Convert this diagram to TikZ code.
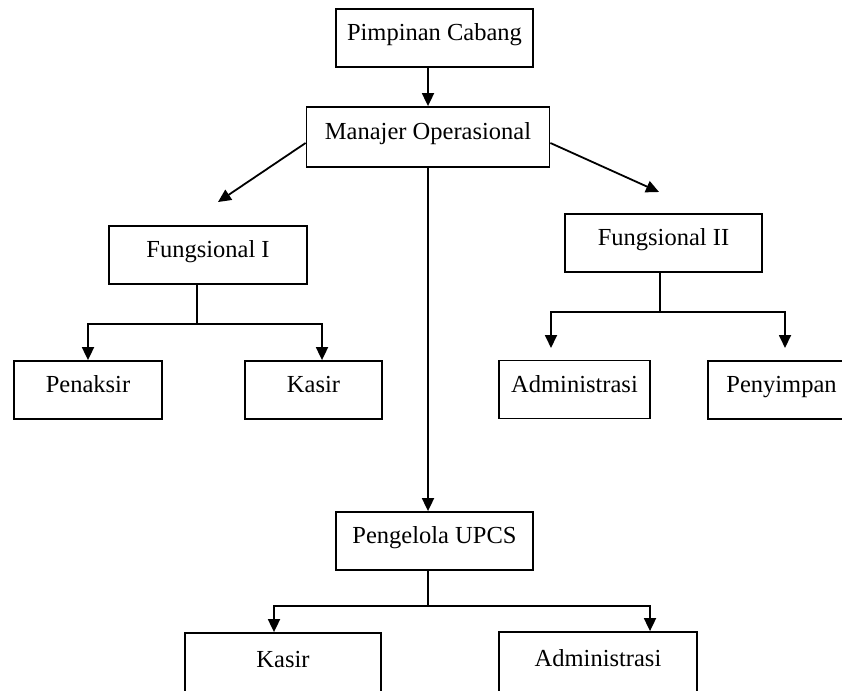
\documentclass[tikz,border=0pt]{standalone}
\usepackage{fontspec}
\setmainfont{Liberation Serif}
\usetikzlibrary{arrows.meta}
\tikzset{kotak/.style={draw,line width=1.8pt,inner sep=0pt,minimum height=58pt,
	text height=20pt,text depth=15pt,font=\fontsize{24.5}{28}\selectfont},
	panah/.style={-{Triangle[width=12pt,length=13pt]},line width=1.8pt}}
\begin{document}
\begin{tikzpicture}[x=1pt,y=-1pt]
\path[use as bounding box,fill=white] (0,0) rectangle (842,690);
\node[kotak,minimum width=197pt] (pc) at (434.5,38) {Pimpinan Cabang};
\node[kotak,minimum width=243pt,minimum height=60pt] (mo) at (428,137) {Manajer Operasional};
\node[kotak,minimum width=198pt] (f1) at (208,255) {Fungsional I};
\node[kotak,minimum width=197pt] (f2) at (663.5,243) {Fungsional II};
\node[kotak,minimum width=148pt] (pn) at (88,390) {Penaksir};
\node[kotak,minimum width=137pt] (ks) at (313.5,390) {Kasir};
\node[kotak,minimum width=151pt] (ad) at (574.5,389.5) {Administrasi};
\node[kotak,minimum width=147pt] (py) at (781.5,390) {Penyimpan};
\node[kotak,minimum width=197pt] (up) at (434.5,541) {Pengelola UPCS};
\node[kotak,minimum width=196pt,minimum height=64pt] (ks2) at (283,665) {Kasir};
\node[kotak,minimum width=198pt,minimum height=64pt] (ad2) at (598,664) {Administrasi};
%ujung panah dan titik cabang
\coordinate (t1) at (218,202);
\coordinate (t2) at (659,192);
\coordinate (t3) at (551,348);
\coordinate (t4) at (785,348);
\coordinate (j1) at (197,324);
\coordinate (j2) at (660,312);
\coordinate (j3) at (428,606);
\draw[panah] (pc.south -| mo.north) -- (mo.north);
\draw[panah] ([yshift=-6pt]mo.west) -- (t1);
\draw[panah] ([yshift=-6pt]mo.east) -- (t2);
\draw[panah] (mo.south) -- (mo.south |- up.north);
\draw[line width=1.8pt] (j1 |- f1.south) -- (j1);
\draw[panah] (j1) -| (pn.north);
\draw[panah] (j1) -| ([xshift=8.5pt]ks.north);
\draw[line width=1.8pt] (j2 |- f2.south) -- (j2);
\foreach \t in {t3,t4} \draw[panah] (j2) -| (\t);
\draw[line width=1.8pt] (j3 |- up.south) -- (j3);
\draw[panah] (j3) -| ([xshift=-9pt]ks2.north);
\draw[panah] (j3) -| ([xshift=52pt]ad2.north);
\end{tikzpicture}
\end{document}
